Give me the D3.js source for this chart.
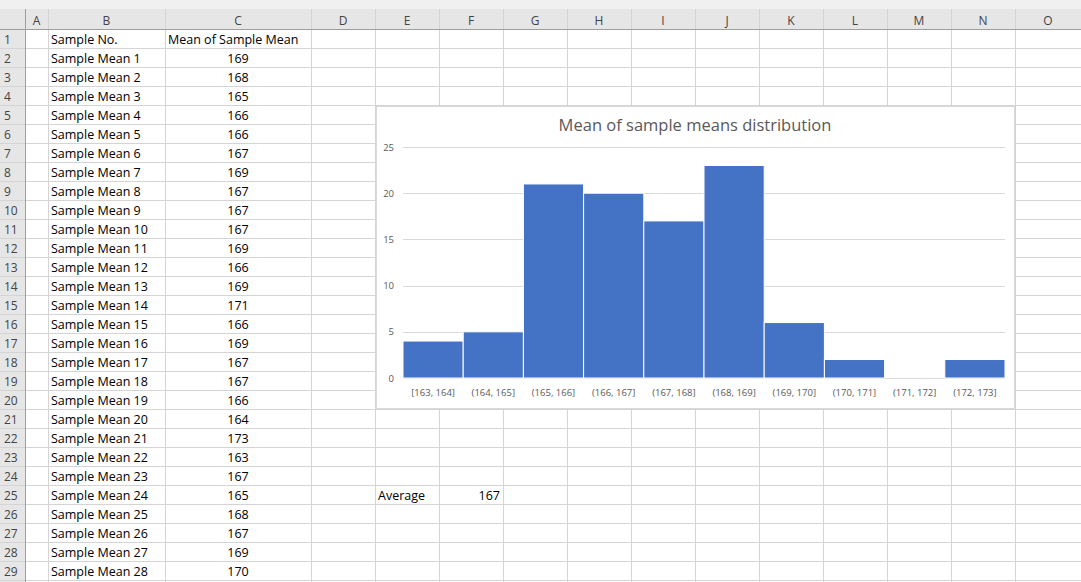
<!DOCTYPE html>
<html><head><meta charset="utf-8">
<script src="https://cdn.jsdelivr.net/npm/d3@7"></script>
<style>body{margin:0;background:#fff}svg{display:block;font-family:"Open Sans","Noto Sans",sans-serif}</style>
</head><body><svg></svg>
<script>
const width = 1081, height = 582;
const colLetters = ["A","B","C","D","E","F","G","H","I","J","K","L","M","N","O"];
const colEdges = [25,48,165,311,375,439,503,567,631,695,759,823,887,951,1015,1081];
const sampleValues = [169,168,165,166,166,167,169,167,167,167,169,166,169,171,166,169,167,167,166,164,173,163,167,165,168,167,169,170];
const binLabels = ["[163, 164]","(164, 165]","(165, 166]","(166, 167]","(167, 168]","(168, 169]","(169, 170]","(170, 171]","(171, 172]","(172, 173]"];
const binCounts = [4,5,21,20,17,23,6,2,0,2];
const yTicks = [0,5,10,15,20,25];

const headTop = 9, headBot = 29.5, rowH = 19, nRows = 29;
const svg = d3.select("svg").attr("width", width).attr("height", height);

// header band
svg.append("rect").attr("x",0).attr("y",0).attr("width",width).attr("height",headBot).attr("fill","#e6e6e6");
svg.append("rect").attr("x",0).attr("y",0).attr("width",width).attr("height",headTop).attr("fill","#f0f0f0");
svg.append("rect").attr("x",0).attr("y",headBot).attr("width",colEdges[0]).attr("height",height).attr("fill","#e6e6e6");

// grid
const g = svg.append("g");
colEdges.forEach(x => g.append("line").attr("x1",x+0.5).attr("x2",x+0.5).attr("y1",headTop).attr("y2",height).attr("stroke","#d4d4d4"));
d3.range(nRows+1).forEach(i => {
  const y = headBot + i*rowH;
  g.append("line").attr("x1",0).attr("x2",width).attr("y1",y).attr("y2",y).attr("stroke","#d4d4d4");
});
svg.append("line").attr("x1",0).attr("x2",width).attr("y1",headBot).attr("y2",headBot).attr("stroke","#9e9e9e");
svg.append("line").attr("x1",colEdges[0]+.5).attr("x2",colEdges[0]+.5).attr("y1",headTop).attr("y2",height).attr("stroke","#9e9e9e");

colLetters.forEach((c,i) => svg.append("text").attr("x",(colEdges[i]+colEdges[i+1])/2).attr("y",headBot-5)
  .attr("text-anchor","middle").attr("font-size",12).attr("fill","#444").text(c));
d3.range(1,nRows+1).forEach(r => svg.append("text").attr("x",4).attr("y",headBot+(r-1)*rowH+14)
  .attr("font-size",12).attr("fill","#444").text(r));

function cell(col,row,txt,anchor){
  const i = colLetters.indexOf(col);
  const x = anchor==="middle" ? (colEdges[i]+colEdges[i+1])/2 : anchor==="end" ? colEdges[i+1]-3 : colEdges[i]+3;
  svg.append("rect").attr("x",colEdges[i]+1).attr("y",headBot+(row-1)*rowH+1).attr("width",0).attr("height",0);
  svg.append("text").attr("x",x).attr("y",headBot+(row-1)*rowH+14).attr("text-anchor",anchor||"start")
    .attr("font-size",12.5).attr("fill","#000").text(txt);
}
// white-out C1 right border overflow not needed; header text fits
cell("B",1,"Sample No.");
cell("C",1,"Mean of Sample Mean");
sampleValues.forEach((v,i) => { cell("B",i+2,"Sample Mean "+(i+1)); cell("C",i+2,v,"middle"); });
cell("E",25,"Average");
cell("F",25,Math.round(d3.mean(sampleValues)),"end");

// chart
const cx0 = 376, cy0 = 106, cw = 638, ch = 302;
const chart = svg.append("g");
chart.append("rect").attr("x",cx0+.5).attr("y",cy0+.5).attr("width",cw).attr("height",ch).attr("fill","#fff").attr("stroke","#d9d9d9");
chart.append("text").attr("x",cx0+cw/2).attr("y",131).attr("text-anchor","middle").attr("font-size",16.5).attr("fill","#595959")
  .text("Mean of sample means distribution");

const x = d3.scaleBand().domain(binLabels).range([403,1005]).padding(0);
const y = d3.scaleLinear().domain([0,25]).range([378,147]);

chart.selectAll(".gl").data(yTicks).enter().append("line")
  .attr("x1",403).attr("x2",1005).attr("y1",d=>Math.round(y(d))+.5).attr("y2",d=>Math.round(y(d))+.5).attr("stroke","#d9d9d9");
chart.selectAll(".yt").data(yTicks).enter().append("text")
  .attr("x",394).attr("y",d=>y(d)+3.5).attr("text-anchor","end").attr("font-size",9.5).attr("fill","#595959").text(d=>d);

chart.selectAll(".bar").data(binCounts).enter().append("rect")
  .attr("x",(d,i)=>x(binLabels[i])).attr("y",d=>y(d)).attr("width",x.bandwidth()).attr("height",d=>y(0)-y(d))
  .attr("fill","#4472C4").attr("stroke","#fff").attr("stroke-width",1);

const xa = chart.append("g").attr("transform","translate(0,378)").call(d3.axisBottom(x).tickSize(0).tickPadding(11));
xa.select(".domain").remove();
xa.selectAll("text").attr("font-size",9.5).attr("fill","#595959").attr("font-family","'Open Sans',sans-serif");
</script></body></html>
